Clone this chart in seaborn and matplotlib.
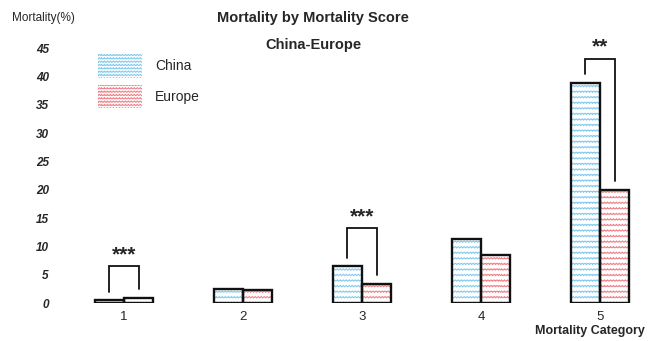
import warnings
import numpy as np
import matplotlib
matplotlib.use("Agg")
import matplotlib.pyplot as plt
import matplotlib.hatch as mhatch
from matplotlib.path import Path
from matplotlib.patches import Patch, Rectangle
import seaborn as sns
import pandas as pd

warnings.filterwarnings("ignore")

# Mortality (%) per mortality category for the two cohorts
categories = ["1", "2", "3", "4", "5"]
china = [0.5, 2.4, 6.5, 11.3, 38.9]
europe = [0.9, 2.3, 3.4, 8.5, 20.0]
regions = ["China", "Europe"]

# Significance brackets: category index, bracket top (%) and star label
sig_idx = [0, 2, 4]
sig_top = [6.5, 13.2, 43.1]
sig_text = ["***", "***", "**"]

hatch_colors = {"China": "#7fc9ee", "Europe": "#f07f86"}


class WaveHatch(mhatch.HatchPatternBase):
    """Horizontal zig-zag lines, selected with '~' in a hatch string."""
    period = 0.03
    amp = 0.007

    def __init__(self, hatch, density):
        self.num_lines = int(hatch.count("~") * density)
        self.pts = int(round(1.0 / (self.period / 2))) + 1
        self.num_vertices = self.num_lines * self.pts

    def set_vertices_and_codes(self, vertices, codes):
        steps, step = np.linspace(0.0, 1.0, self.num_lines, False, retstep=True)
        steps += step / 2
        xs = np.linspace(0.0, 1.0, self.pts)
        wave = self.amp * np.where(np.arange(self.pts) % 2 == 0, -1.0, 1.0)
        for i, y in enumerate(steps):
            sl = slice(i * self.pts, (i + 1) * self.pts)
            vertices[sl, 0] = xs
            vertices[sl, 1] = y + wave
            codes[sl] = Path.LINETO
            codes[i * self.pts] = Path.MOVETO


mhatch._hatch_types.append(WaveHatch)

sns.set_theme(style="white")
plt.rcParams["font.family"] = ["Liberation Sans", "DejaVu Sans"]
plt.rcParams["hatch.linewidth"] = 0.7

df = pd.DataFrame({
    "category": categories * 2,
    "value": china + europe,
    "region": ["China"] * len(categories) + ["Europe"] * len(categories),
})

fig = plt.figure(figsize=(6.48, 3.41), dpi=100)
ax = fig.add_axes([60 / 648, 38 / 341, 588 / 648, 266 / 341])

sns.barplot(data=df, x="category", y="value", hue="region", hue_order=regions,
            palette={"China": "white", "Europe": "white"}, width=0.49,
            errorbar=None, legend=False, ax=ax)

# hatch each bar in its cohort colour, then outline it in black
for region, container in zip(regions, ax.containers):
    for bar in container:
        bar.set_hatch("~~~")
        bar.set_edgecolor(hatch_colors[region])
        bar.set_linewidth(0)
        ax.add_patch(Rectangle(bar.get_xy(), bar.get_width(), bar.get_height(),
                               fill=False, edgecolor="#111111", linewidth=1.7,
                               zorder=bar.get_zorder() + 1))

# significance brackets from the bar tops
china_bars = list(ax.containers[0])
europe_bars = list(ax.containers[1])
gap = 1.5
for i, top, txt in zip(sig_idx, sig_top, sig_text):
    cb, eb = china_bars[i], europe_bars[i]
    xl = cb.get_x() + cb.get_width() / 2
    xr = eb.get_x() + eb.get_width() / 2
    yl = china[i] + gap
    yr = europe[i] + gap
    ax.plot([xl, xl, xr, xr], [yl, top, top, yr], color="#111111", lw=1.3,
            clip_on=False, solid_joinstyle="miter")
    ax.text((xl + xr) / 2, top + 0.4, txt, ha="center", va="bottom",
            fontsize=15, fontweight="bold", clip_on=False)

ax.set_xlim(-0.538, 4.403)
ax.set_ylim(0, 47)
ax.set_yticks(range(0, 50, 5))
ax.tick_params(axis="y", length=0, pad=8, labelsize=8.5)
ax.tick_params(axis="x", length=0, pad=6, labelsize=9.5)
for lab in ax.get_yticklabels():
    lab.set_fontstyle("italic")
    lab.set_fontweight("bold")
for s in ax.spines.values():
    s.set_visible(False)
ax.set_xlabel("")
ax.set_ylabel("")

handles = [Patch(facecolor="white", edgecolor=hatch_colors[r], hatch="~~~~~",
                 linewidth=0) for r in regions]
ax.legend(handles, regions, loc="upper left", bbox_to_anchor=(98 / 648, 1 - 54 / 341),
          bbox_transform=fig.transFigure, frameon=False, fontsize=10,
          handlelength=3.2, handleheight=2.25, handletextpad=0.9,
          labelspacing=0.5, borderpad=0, borderaxespad=0)

fig.text(313 / 648, 1 - 18 / 341, "Mortality by Mortality Score", ha="center",
         va="center", fontsize=10.5, fontweight="bold")
fig.text(313 / 648, 1 - 45 / 341, "China-Europe", ha="center", va="center",
         fontsize=10.5, fontweight="bold")
fig.text(12 / 648, 1 - 18 / 341, "Mortality(%)", ha="left", va="center", fontsize=8.5)
fig.text(590 / 648, 1 - 331 / 341, "Mortality Category", ha="center", va="center",
         fontsize=9, fontweight="bold")

fig.savefig("out.png", dpi=100, facecolor="white")
